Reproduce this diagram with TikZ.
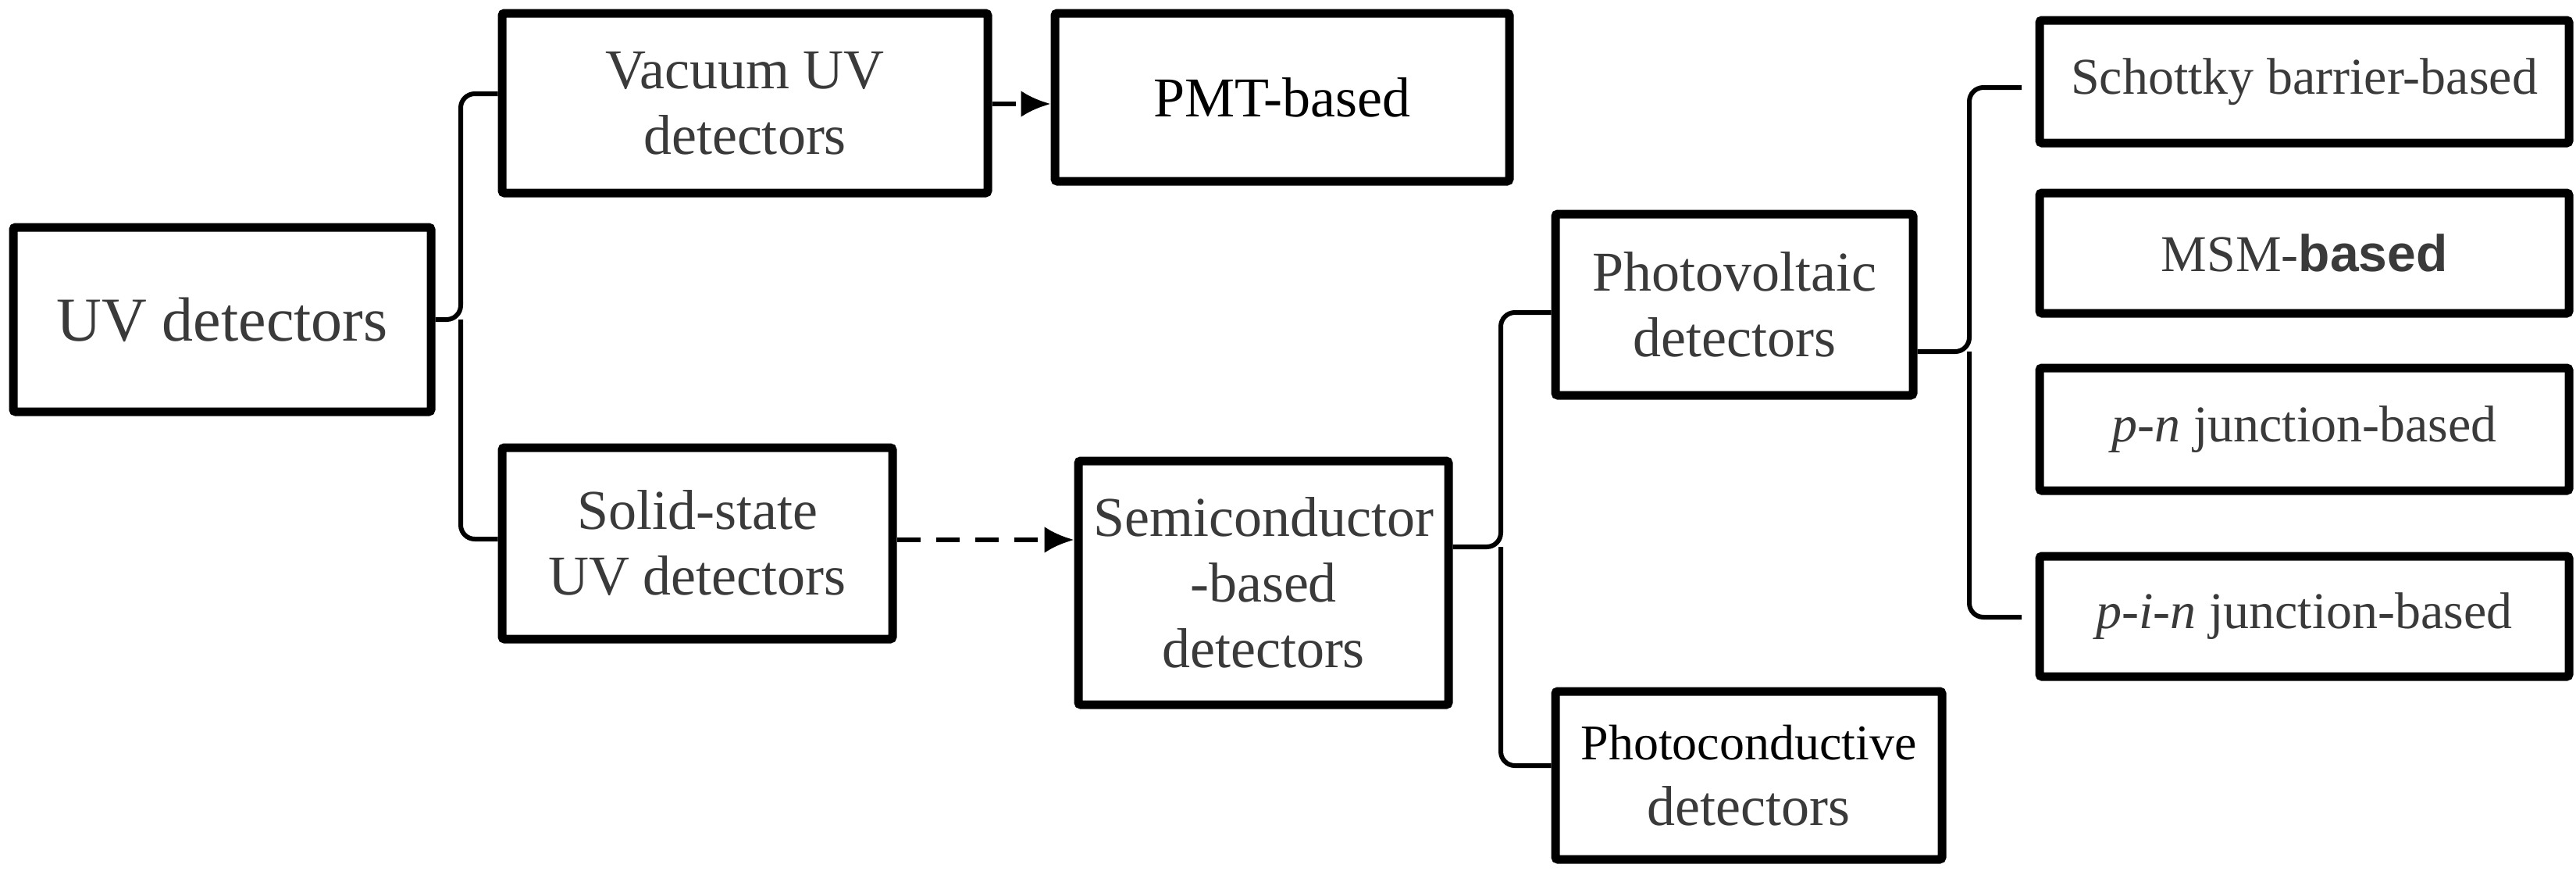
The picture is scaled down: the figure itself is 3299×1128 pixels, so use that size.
\documentclass[tikz,border=0pt]{standalone}
\usepackage{fontspec}
\setmainfont{Liberation Serif}
\newfontfamily\sansf{Liberation Sans}
\usetikzlibrary{arrows.meta}
\definecolor{tx}{HTML}{3A3A3A}
\begin{document}
\begin{tikzpicture}[x=1pt,y=-1pt,
  box/.style={draw=black,line width=11pt,rounded corners=3pt,inner sep=0pt,align=center,text=tx,font=\fontsize{72}{84}\selectfont},
  br/.style={line width=6pt,rounded corners=18pt},
  da/.style={line width=6pt,dash pattern=on 30pt off 20pt,-{Latex[length=38pt,width=34pt]}}]
\useasboundingbox (0,0) rectangle (3299,1128);
\fill[white] (0,0) rectangle (3299,1128);
\newcommand{\bx}[6]{\node[box,minimum width=#4-#2,minimum height=#5-#3] (#1) at ({(#2+#4)/2},{(#3+#5)/2}) {#6};}
\bx{uv}{17}{291}{552}{527}{\fontsize{80}{92}\selectfont UV detectors}
\bx{vac}{643}{17}{1265}{247}{Vacuum UV\\detectors}
\bx{pmt}{1351}{17}{1933}{232}{\color{black}PMT-based}
\bx{sol}{643}{573}{1143}{818}{Solid-state\\UV detectors}
\bx{sem}{1381}{590}{1855}{902}{Semiconductor\\-based\\detectors}
\bx{pv}{1992}{274}{2450}{506}{Photovoltaic\\detectors}
\bx{pc}{1992}{885}{2487}{1100}{\fontsize{64}{78}\selectfont\color{black}Photoconductive\\detectors}
\bx{sch}{2612}{26}{3290}{183}{\fontsize{66}{76}\selectfont Schottky barrier-based}
\bx{msm}{2612}{247}{3290}{401}{\fontsize{66}{76}\selectfont MSM-{\sansf\bfseries based}}
\bx{pn}{2612}{471}{3290}{628}{\fontsize{66}{76}\selectfont \textit{p-n} junction-based}
\bx{pin}{2612}{712}{3290}{866}{\fontsize{66}{76}\selectfont \textit{p-i-n} junction-based}
% brackets
\draw[br] (uv.east) -- (590,409) |- (vac.west|-0,120);
\draw[br] (590,409) |- (sol.west|-0,690);
\draw[br] (sem.east|-0,700) -- (1922,700) |- (pv.west|-0,400);
\draw[br] (1922,700) |- (pc.west|-0,980);
\draw[br] (pv.east|-0,450) -- (2522,450) |- (2589,112);
\draw[br] (2522,450) |- (2589,790);
% dashed arrows
\draw[da] (vac.east|-0,133) -- (pmt.west|-0,133);
\draw[da] (sol.east|-0,691) -- (sem.west|-0,691);
\end{tikzpicture}
\end{document}
